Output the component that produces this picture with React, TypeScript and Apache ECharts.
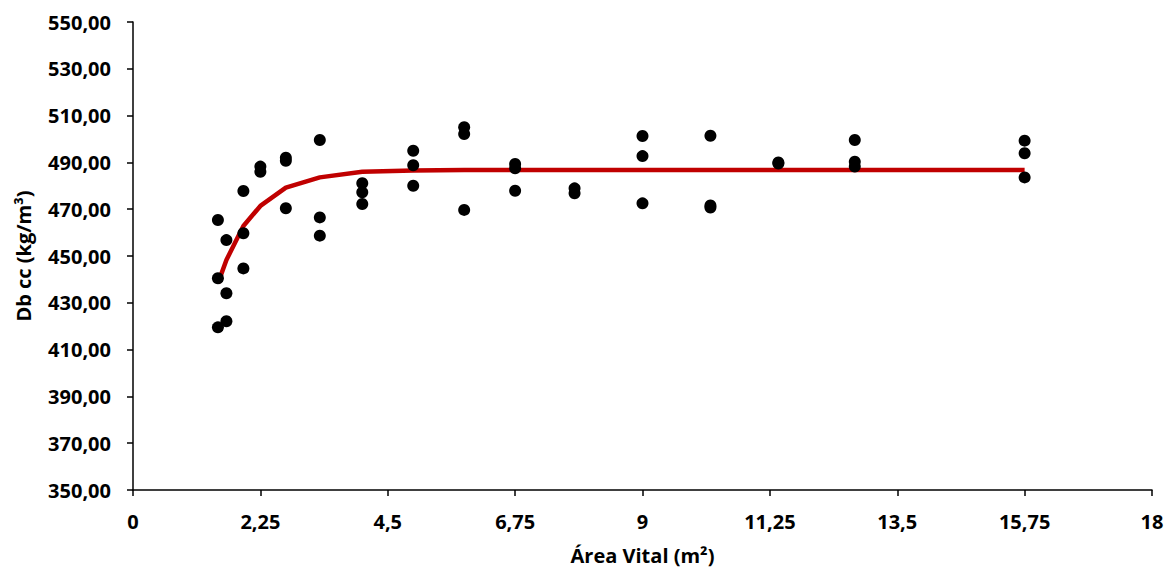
import React, { useEffect, useRef } from "react";
import * as echarts from "echarts";

// Observed data: [Área Vital (m²), Db cc (kg/m³)]
const obsX: number[] = [
  1.5, 1.5, 1.5,
  1.65, 1.65, 1.65,
  1.95, 1.95, 1.95,
  2.25, 2.25,
  2.7, 2.7, 2.7,
  3.3, 3.3, 3.3,
  4.05, 4.05, 4.05,
  4.95, 4.95, 4.95,
  5.85, 5.85, 5.85,
  6.75, 6.75, 6.75,
  7.8, 7.8,
  9, 9, 9,
  10.2, 10.2, 10.2,
  11.4, 11.4,
  12.75, 12.75, 12.75,
  15.75, 15.75, 15.75,
];
const obsY: number[] = [
  465.4, 440.5, 419.5,
  456.8, 434.1, 422.1,
  477.8, 459.7, 444.7,
  488.2, 486.0,
  492.0, 490.7, 470.4,
  499.6, 466.5, 458.7,
  481.1, 477.2, 472.2,
  495.0, 488.8, 480.0,
  505.0, 502.1, 469.7,
  489.3, 487.5, 477.9,
  478.9, 476.8,
  501.3, 492.7, 472.5,
  501.4, 471.6, 470.7,
  490.0, 489.5,
  499.6, 490.3, 488.2,
  499.3, 493.9, 483.6,
];

// Fitted curve
const fitX: number[] = [1.5, 1.65, 1.95, 2.25, 2.7, 3.3, 4.05, 4.95, 5.85, 6.75, 7.8, 9, 10.2, 11.4, 12.75, 15.75];
const fitY: number[] = [438.3, 448.3, 462.8, 471.4, 479.2, 483.6, 486.0, 486.5, 486.7, 486.7, 486.7, 486.7, 486.7, 486.7, 486.7, 486.7];

const X_TITLE = "Área Vital (m²)";
const Y_TITLE = "Db cc (kg/m³)";

const FONT = "'Open Sans', 'Liberation Sans', sans-serif";

export default function App() {
  const ref = useRef<HTMLDivElement>(null);
  useEffect(() => {
    if (!ref.current) return;
    const chart = echarts.init(ref.current, undefined, { renderer: "svg" });
    const labelStyle = {
      color: "#000",
      fontFamily: FONT,
      fontWeight: "bold" as const,
      fontSize: 20,
    };
    chart.setOption({
      animation: false,
      backgroundColor: "#fff",
      grid: { left: 133, right: 15, top: 22, bottom: 81, containLabel: false },
      xAxis: {
        type: "value",
        min: 0,
        max: 18,
        interval: 2.25,
        name: X_TITLE,
        nameLocation: "middle",
        nameGap: 55,
        nameTextStyle: { ...labelStyle },
        axisLine: { show: true, onZero: false, lineStyle: { color: "#000", width: 1.5 } },
        axisTick: { show: true, inside: false, length: 6, lineStyle: { color: "#000", width: 1.5 } },
        axisLabel: {
          ...labelStyle,
          margin: 21,
          formatter: (v: number) => String(v).replace(".", ","),
        },
        splitLine: { show: false },
      },
      yAxis: {
        type: "value",
        min: 350,
        max: 550,
        interval: 20,
        name: Y_TITLE,
        nameLocation: "middle",
        nameGap: 100,
        nameRotate: 90,
        nameTextStyle: { ...labelStyle },
        axisLine: { show: true, onZero: false, lineStyle: { color: "#000", width: 1.5 } },
        axisTick: { show: true, inside: false, length: 6, lineStyle: { color: "#000", width: 1.5 } },
        axisLabel: {
          ...labelStyle,
          margin: 22,
          formatter: (v: number) => v.toFixed(2).replace(".", ","),
        },
        splitLine: { show: false },
      },
      series: [
        {
          type: "line",
          data: fitX.map((x, i) => [x, fitY[i]]),
          showSymbol: false,
          symbol: "none",
          lineStyle: { color: "#C00000", width: 4.5 },
          z: 2,
        },
        {
          type: "scatter",
          data: obsX.map((x, i) => [x, obsY[i]]),
          symbol: "circle",
          symbolSize: 12,
          itemStyle: { color: "#000", opacity: 1 },
          z: 3,
        },
      ],
    });
    return () => chart.dispose();
  }, []);
  return (
    <div
      ref={ref}
      style={{ position: "fixed", left: 0, top: 0, width: 1167, height: 571, background: "#fff" }}
    />
  );
}
